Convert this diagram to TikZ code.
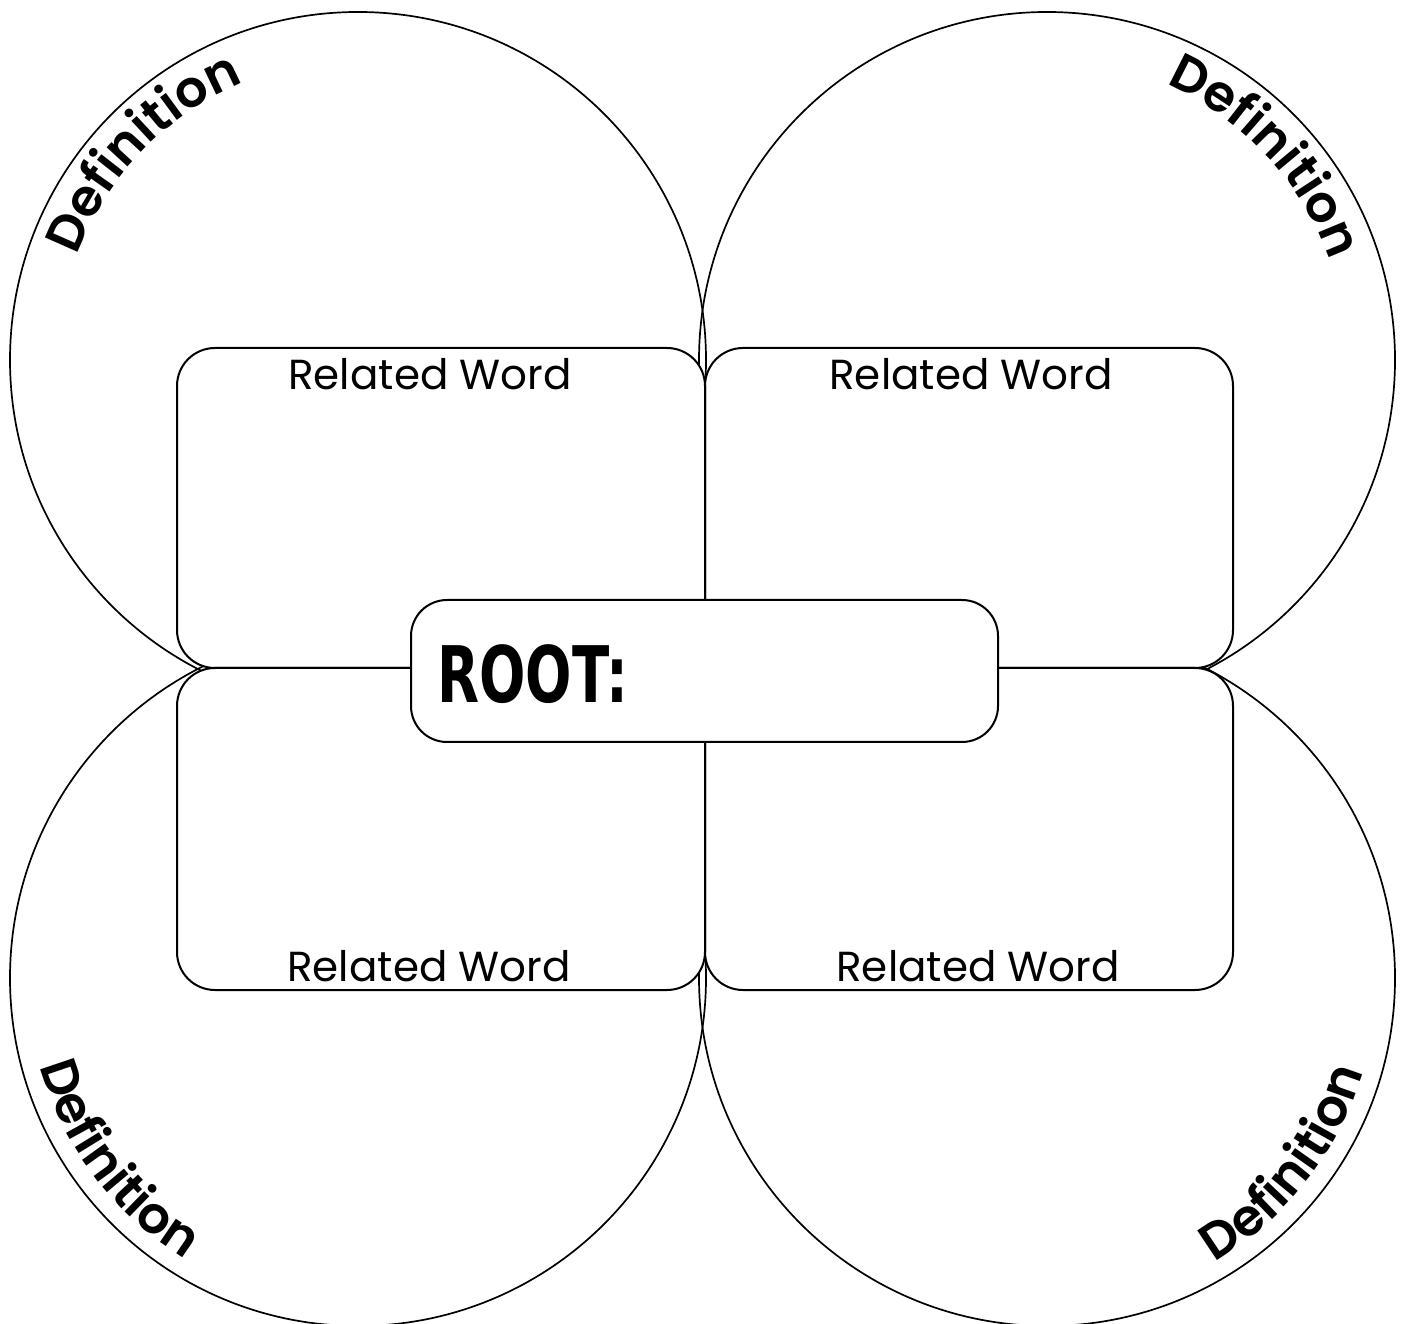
\documentclass[tikz,border=0pt]{standalone}
\usepackage{fontspec}
\setmainfont{Poppins}
\newfontfamily\rootfont{DejaVu Sans}
\newfontfamily\deffont{Poppins SemiBold}
\usetikzlibrary{decorations.text}
\begin{document}
\begin{tikzpicture}[x=1pt,y=1pt,
  petal/.style={draw=black, line width=1.7pt},
  wordbox/.style={draw=black, line width=2pt, rectangle, rounded corners=38pt, inner sep=0pt, outer sep=0pt},
  boxfill/.style={fill=white, rounded corners=38pt},
  wordlbl/.style={font=\fontsize{42}{42}\selectfont, inner sep=0pt},
  defn/.style={decorate, decoration={text along path, text align=center,
     text={|\deffont\fontsize{51}{51}\selectfont|Definition}}}
]
\useasboundingbox (0,0) rectangle (1404,1323);
% petal circles
\coordinate (ctl) at (358,963);
\coordinate (ctr) at (1047,963);
\coordinate (cbl) at (358,345);
\coordinate (cbr) at (1047,345);
\draw[petal] (ctl) circle[radius=348];
\draw[petal] (ctr) circle[radius=348];
\draw[petal] (cbl) circle[radius=348];
\draw[petal] (cbr) circle[radius=348];
% white fills of boxes
\fill[boxfill] (177,655) rectangle (705,975);
\fill[boxfill] (705,655) rectangle (1233,975);
\fill[boxfill] (177,333) rectangle (705,655);
\fill[boxfill] (705,333) rectangle (1233,655);
% boxes
\node[wordbox, minimum width=528, minimum height=320, anchor=south west] (btl) at (177,655) {};
\node[wordbox, minimum width=528, minimum height=320, anchor=south west] (btr) at (705,655) {};
\node[wordbox, minimum width=528, minimum height=322, anchor=south west] (bbl) at (177,333) {};
\node[wordbox, minimum width=528, minimum height=322, anchor=south west] (bbr) at (705,333) {};
\node[wordbox, fill=white, rounded corners=36pt, minimum width=587, minimum height=142] (root) at (704.5,652) {};
\node[anchor=base west, inner sep=0pt] (roottxt) at (437,620)
  {\rootfont\bfseries\fontsize{78}{78}\selectfont\scalebox{0.7}[1]{ROOT:}};
% related word labels
\node[wordlbl] (rtl) at (430,949) {Related Word};
\node[wordlbl] (rtr) at (971,949) {Related Word};
\node[wordlbl] (rbl) at (429,357) {Related Word};
\node[wordlbl] (rbr) at (978,357) {Related Word};
% definitions along the arcs
\path[defn] (ctl) ++(176:300) arc[start angle=176, end angle=96, radius=300];
\path[defn] (ctr) ++(83:300) arc[start angle=83, end angle=3, radius=300];
\path[defn] (cbl) ++(177:330) arc[start angle=177, end angle=257, radius=330];
\path[defn] (cbr) ++(282:330) arc[start angle=282, end angle=362, radius=330];
\end{tikzpicture}
\end{document}
